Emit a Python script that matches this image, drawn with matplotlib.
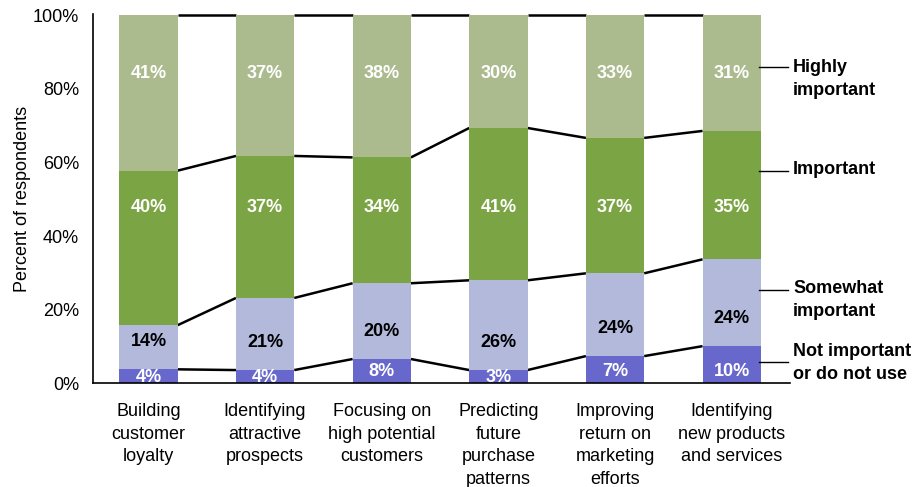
import numpy as np
import matplotlib
matplotlib.use("Agg")
import matplotlib.pyplot as plt

plt.rcParams['font.family'] = ['Liberation Sans', 'DejaVu Sans']

categories = ['Building\ncustomer\nloyalty', 'Identifying\nattractive\nprospects',
              'Focusing on\nhigh potential\ncustomers', 'Predicting\nfuture\npurchase\npatterns',
              'Improving\nreturn on\nmarketing\nefforts', 'Identifying\nnew products\nand services']
series_names = ['Not important\nor do not use', 'Somewhat\nimportant', 'Important', 'Highly\nimportant']

# segment heights as drawn
not_important = [3.8, 3.6, 6.6, 3.6, 7.4, 10.1]
somewhat = [12.0, 19.6, 20.6, 24.4, 22.5, 23.6]
important = [42.0, 38.6, 34.2, 41.4, 36.8, 34.9]
highly = [42.2, 38.2, 38.6, 30.6, 33.3, 31.4]

# printed labels
not_important_lbl = [4, 4, 8, 3, 7, 10]
somewhat_lbl = [14, 21, 20, 26, 24, 24]
important_lbl = [40, 37, 34, 41, 37, 35]
highly_lbl = [41, 37, 38, 30, 33, 31]

colors = ['#6767CC', '#B2B9DB', '#7BA444', '#ABBB8E']
text_colors = ['white', 'black', 'white', 'white']

fig = plt.figure(figsize=(9.24, 4.87), dpi=100)
ax = fig.add_axes([0.1006, 0.2129, 0.7544, 0.7585])

x = np.arange(len(categories))
w = 0.5
series = [not_important, somewhat, important, highly]
labels = [not_important_lbl, somewhat_lbl, important_lbl, highly_lbl]

bottom = np.zeros(len(x))
bottoms = []
for vals, c in zip(series, colors):
    ax.bar(x, vals, w, bottom=bottom, color=c, edgecolor='none', zorder=2)
    bottoms.append(bottom.copy())
    bottom = bottom + np.array(vals)
tops = [b + np.array(v) for b, v in zip(bottoms, series)]

# connector lines between bars at each boundary
for t in tops:
    for i in range(len(x) - 1):
        ax.plot([x[i] + w / 2, x[i + 1] - w / 2], [t[i], t[i + 1]],
                color='black', lw=1.8, zorder=1, solid_capstyle='butt')

# value labels
for i in range(len(x)):
    ny = 3.3 if not_important[i] > 5 else 1.6
    ypos = [ny, bottoms[1][i] + 7.6, 47.8, 84.3]
    for s in range(4):
        ax.text(x[i], ypos[s], f'{labels[s][i]}%', ha='center', va='center',
                color=text_colors[s], fontsize=13, fontweight='bold', clip_on=True, zorder=3)

# right side legend with leader lines
leader_y = [5.8, 25.3, 57.8, 85.9]
text_y = [5.5, 22.7, 58.0, 82.8]
tr = ax.get_yaxis_transform()
for name, ly, ty in zip(series_names, leader_y, text_y):
    ax.plot([0.956, 0.997], [ly, ly], color='black', lw=1.0, transform=tr, clip_on=False)
    ax.text(1.0043, ty, name, transform=tr, ha='left', va='center', fontsize=13,
            fontweight='bold', linespacing=1.45)

ax.set_xlim(-0.476, 5.50)
ax.set_ylim(0, 100.4)
ax.set_yticks([0, 20, 40, 60, 80, 100])
ax.set_yticklabels([f'{v}%' for v in [0, 20, 40, 60, 80, 100]])
ax.set_xticks(x)
ax.set_xticklabels(categories, linespacing=1.45)
ax.tick_params(axis='both', length=0, labelsize=13)
ax.tick_params(axis='y', pad=10)
ax.tick_params(axis='x', pad=14)
ax.set_ylabel('Percent of respondents', fontsize=13, labelpad=1)
ax.spines['top'].set_visible(False)
ax.spines['right'].set_visible(False)
ax.spines['left'].set_linewidth(1.2)
ax.spines['bottom'].set_linewidth(1.2)

fig.savefig('out.png', dpi=100)
